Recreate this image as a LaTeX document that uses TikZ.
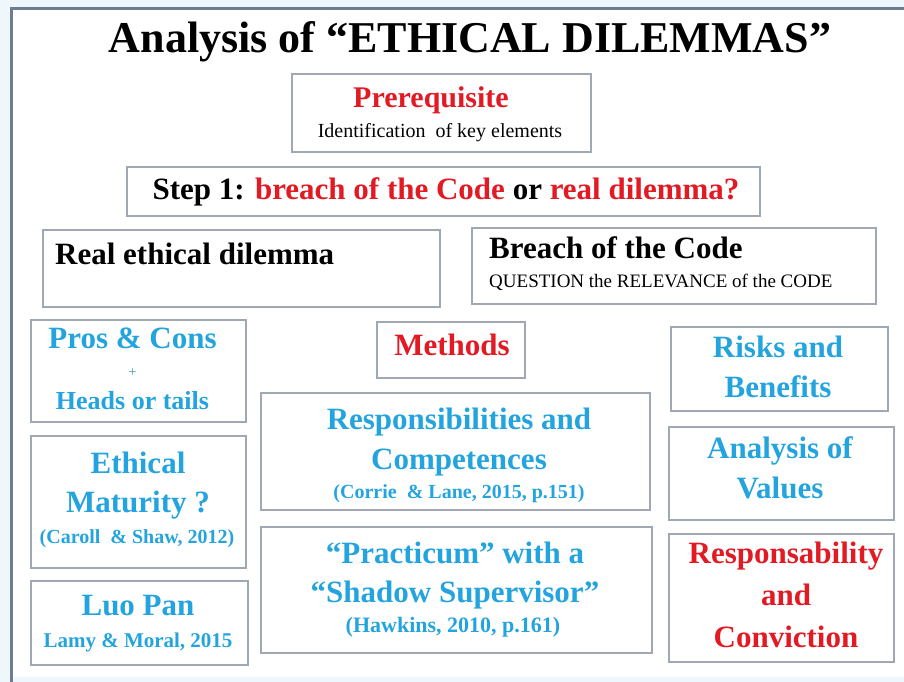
\documentclass[tikz,border=0pt]{standalone}
\usepackage{fontspec}
\setmainfont{Liberation Serif}
\definecolor{pagebg}{RGB}{240,247,252}
\definecolor{framecol}{RGB}{110,125,145}
\definecolor{boxgray}{RGB}{160,168,180}
\definecolor{hotred}{RGB}{226,26,36}
\definecolor{skyblue}{RGB}{36,164,222}
\tikzset{
  box/.style={draw=boxgray, line width=1.2pt, fill=white, inner sep=0pt},
  txt/.style={anchor=base, inner sep=0pt},
  big/.style={txt, font=\fontsize{31}{36}\selectfont\bfseries},
  cite/.style={txt, font=\fontsize{20}{24}\selectfont\bfseries},
  plain/.style={txt, font=\fontsize{19}{23}\selectfont},
}
\begin{document}
\begin{tikzpicture}[x=1pt,y=-1pt]
\useasboundingbox (0,0) rectangle (904,682);
% page background and frame
\fill[pagebg] (0,0) rectangle (904,682);
\fill[white] (11,9) rectangle (904,677);
\draw[framecol, line width=3pt] (11,682) -- (11,9) -- (904,9);

% title
\node[txt, font=\fontsize{44}{50}\selectfont\bfseries] (title) at (470,53) {Analysis of “ETHICAL DILEMMAS”};

% boxes
\node[box, minimum width=299pt, minimum height=78pt] (pre) at (441.5,113) {};
\node[box, minimum width=633pt, minimum height=49pt] (step) at (443.5,191.5) {};
\node[box, minimum width=397pt, minimum height=77pt] (real) at (241.5,268.5) {};
\node[box, minimum width=404pt, minimum height=76pt] (breach) at (674,266) {};
\node[box, minimum width=215pt, minimum height=102pt] (pros) at (138.5,371) {};
\node[box, minimum width=148pt, minimum height=56pt] (meth) at (451,350) {};
\node[box, minimum width=217pt, minimum height=84pt] (risk) at (779.5,369) {};
\node[box, minimum width=389pt, minimum height=117pt] (resp) at (455.5,451.5) {};
\node[box, minimum width=215pt, minimum height=132pt] (mat) at (138.5,502) {};
\node[box, minimum width=225pt, minimum height=93pt] (val) at (781.5,473.5) {};
\node[box, minimum width=391pt, minimum height=126pt] (prac) at (456.5,590) {};
\node[box, minimum width=217pt, minimum height=84pt] (luo) at (139.5,623) {};
\node[box, minimum width=225pt, minimum height=128pt] (conv) at (781.5,598) {};

% prerequisite
\node[txt, font=\fontsize{30}{34}\selectfont\bfseries, text=hotred] (preA) at (431,108) {Prerequisite};
\node[txt, font=\fontsize{20}{24}\selectfont] (preB) at (440,138) {Identification\ \ of key elements};

% step 1
\node[big] (stepA) at (446,199) {Step 1: \textcolor{hotred}{breach of the Code} or \textcolor{hotred}{real dilemma?}};

% the two branches
\node[big, anchor=base west] (realA) at (55,264) {Real ethical dilemma};
\node[big, anchor=base west] (breachA) at (489,258) {Breach of the Code};
\node[plain, anchor=base west] (breachB) at (489,287) {QUESTION the RELEVANCE of the CODE};

% left column
\node[big, text=skyblue] (prosA) at (132.5,348) {Pros \& Cons};
\node[txt, font=\fontsize{14}{16}\selectfont, text=skyblue!80!gray] (prosB) at (132.5,376) {+};
\node[txt, font=\fontsize{26}{30}\selectfont\bfseries, text=skyblue] (prosC) at (132.5,409) {Heads or tails};

\node[big, text=skyblue] (matA) at (138,473) {Ethical};
\node[big, text=skyblue] (matB) at (138,512) {Maturity ?};
\node[cite, text=skyblue] (matC) at (137,543) {(Caroll \ \& Shaw, 2012)};

\node[big, text=skyblue] (luoA) at (138,615) {Luo Pan};
\node[txt, font=\fontsize{21}{25}\selectfont\bfseries, text=skyblue] (luoB) at (138,647) {Lamy \& Moral, 2015};

% middle column
\node[big, text=hotred] (methA) at (452,355) {Methods};

\node[big, text=skyblue] (respA) at (459,429) {Responsibilities and};
\node[big, text=skyblue] (respB) at (459,469) {Competences};
\node[cite, text=skyblue] (respC) at (459,498) {(Corrie \ \& Lane, 2015, p.151)};

\node[big, text=skyblue] (pracA) at (455,563) {“Practicum” with a};
\node[big, text=skyblue] (pracB) at (455,602) {“Shadow Supervisor”};
\node[txt, font=\fontsize{22}{26}\selectfont\bfseries, text=skyblue] (pracC) at (453,632) {(Hawkins, 2010, p.161)};

% right column
\node[big, text=skyblue] (riskA) at (778,357) {Risks and};
\node[big, text=skyblue] (riskB) at (778,397) {Benefits};

\node[big, text=skyblue] (valA) at (780,458) {Analysis of};
\node[big, text=skyblue] (valB) at (780,498) {Values};

\node[big, text=hotred] (convA) at (786,563) {Responsability};
\node[big, text=hotred] (convB) at (786,605) {and};
\node[big, text=hotred] (convC) at (786,647) {Conviction};
\end{tikzpicture}
\end{document}
